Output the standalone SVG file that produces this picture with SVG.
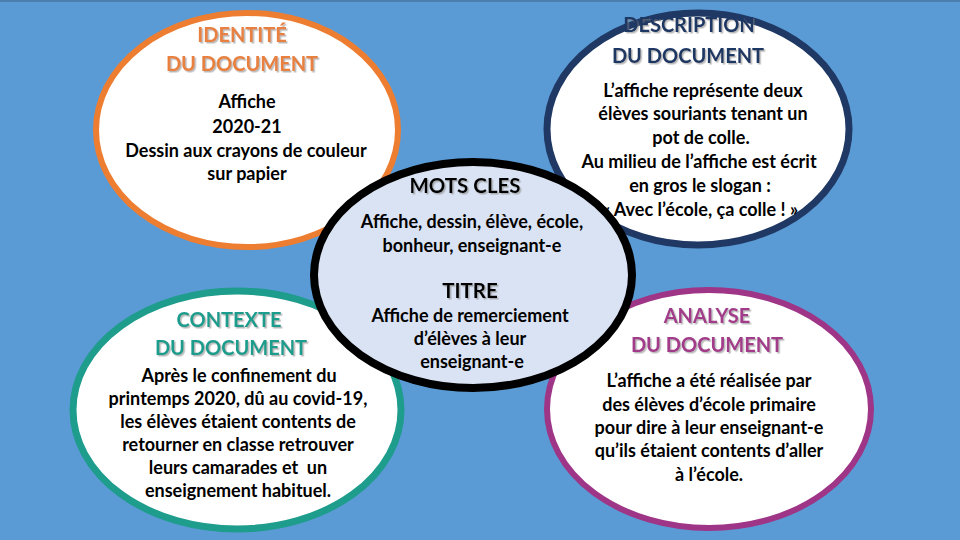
<svg xmlns="http://www.w3.org/2000/svg" width="960" height="540" viewBox="0 0 960 540">
<defs>
<filter id="sh" x="-10%" y="-30%" width="120%" height="160%">
<feDropShadow dx="1.5" dy="1.5" stdDeviation="0.6" flood-color="#7f7f7f" flood-opacity="0.55"/>
</filter>
<style>
.bg{fill:#5B9BD5}
.el{fill:#FFFFFF}
.t{font-family:Lato,"Open Sans","Liberation Sans",sans-serif;font-weight:bold;text-anchor:middle}
.h{font-size:20px;filter:url(#sh)}
.b{font-size:18px;fill:#000}
</style>
</defs>
<rect class="bg" x="0" y="0" width="960" height="540"/>
<rect x="0" y="0" width="960" height="2" fill="#4a7fb0"/>

<g id="identite">
<ellipse class="el" cx="247" cy="130" rx="151" ry="117" stroke="#ED7D31" stroke-width="6"/>
<text class="t h" x="242" y="42" fill="#E8803F">IDENTITÉ</text>
<text class="t h" x="242" y="71" fill="#E8803F">DU DOCUMENT</text>
<text class="t b" x="247" y="108">Affiche</text>
<text class="t b" x="247" y="133">2020-21</text>
<text class="t b" x="246" y="157">Dessin aux crayons de couleur</text>
<text class="t b" x="247" y="180">sur papier</text>
</g>

<g id="description">
<ellipse class="el" cx="698" cy="129" rx="151" ry="116" stroke="#1F3864" stroke-width="7"/>
<text class="t h" x="689" y="32" fill="#1F3864">DESCRIPTION</text>
<text class="t h" x="688" y="63" fill="#1F3864">DU DOCUMENT</text>
<text class="t b" x="703" y="97">L’affiche représente deux</text>
<text class="t b" x="703" y="120">élèves souriants tenant un</text>
<text class="t b" x="701" y="144">pot de colle.</text>
<text class="t b" x="699" y="168">Au milieu de l’affiche est écrit</text>
<text class="t b" x="700" y="192">en gros le slogan :</text>
<text class="t b" x="700" y="216">« Avec l’école, ça colle ! »</text>
</g>

<g id="contexte">
<ellipse class="el" cx="237" cy="410" rx="164" ry="119" stroke="#1E9C8C" stroke-width="7"/>
<text class="t h" x="229" y="327" fill="#1E9C8C">CONTEXTE</text>
<text class="t h" x="231" y="355" fill="#1E9C8C">DU DOCUMENT</text>
<text class="t b" x="239" y="382">Après le confinement du</text>
<text class="t b" x="238" y="405">printemps 2020, dû au covid-19,</text>
<text class="t b" x="238" y="428">les élèves étaient contents de</text>
<text class="t b" x="238" y="451">retourner en classe retrouver</text>
<text class="t b" x="238" y="474" xml:space="preserve">leurs camarades et  un</text>
<text class="t b" x="238" y="497">enseignement habituel.</text>
</g>

<g id="analyse">
<ellipse class="el" cx="709" cy="409" rx="162" ry="119" stroke="#9E3586" stroke-width="6"/>
<text class="t h" x="707" y="323" fill="#A23B8A">ANALYSE</text>
<text class="t h" x="707" y="352" fill="#A23B8A">DU DOCUMENT</text>
<text class="t b" x="709" y="387">L’affiche a été réalisée par</text>
<text class="t b" x="709" y="411">des élèves d’école primaire</text>
<text class="t b" x="709" y="434">pour dire à leur enseignant-e</text>
<text class="t b" x="709" y="457">qu’ils étaient contents d’aller</text>
<text class="t b" x="709" y="481">à l’école.</text>
</g>

<g id="mots-cles">
<ellipse cx="473" cy="275" rx="159" ry="113" fill="#DAE3F3" stroke="#000" stroke-width="8"/>
<text class="t" x="465" y="193" font-size="20.5" fill="#000" filter="url(#sh)">MOTS CLES</text>
<text class="t b" x="472" y="228">Affiche, dessin, élève, école,</text>
<text class="t b" x="472" y="252">bonheur, enseignant-e</text>
<text class="t" x="470" y="298" font-size="20.5" fill="#000" filter="url(#sh)">TITRE</text>
<text class="t b" x="470" y="322">Affiche de remerciement</text>
<text class="t b" x="470" y="345">d’élèves à leur</text>
<text class="t b" x="472" y="368">enseignant-e</text>
</g>

<g id="connectors"></g>
</svg>
